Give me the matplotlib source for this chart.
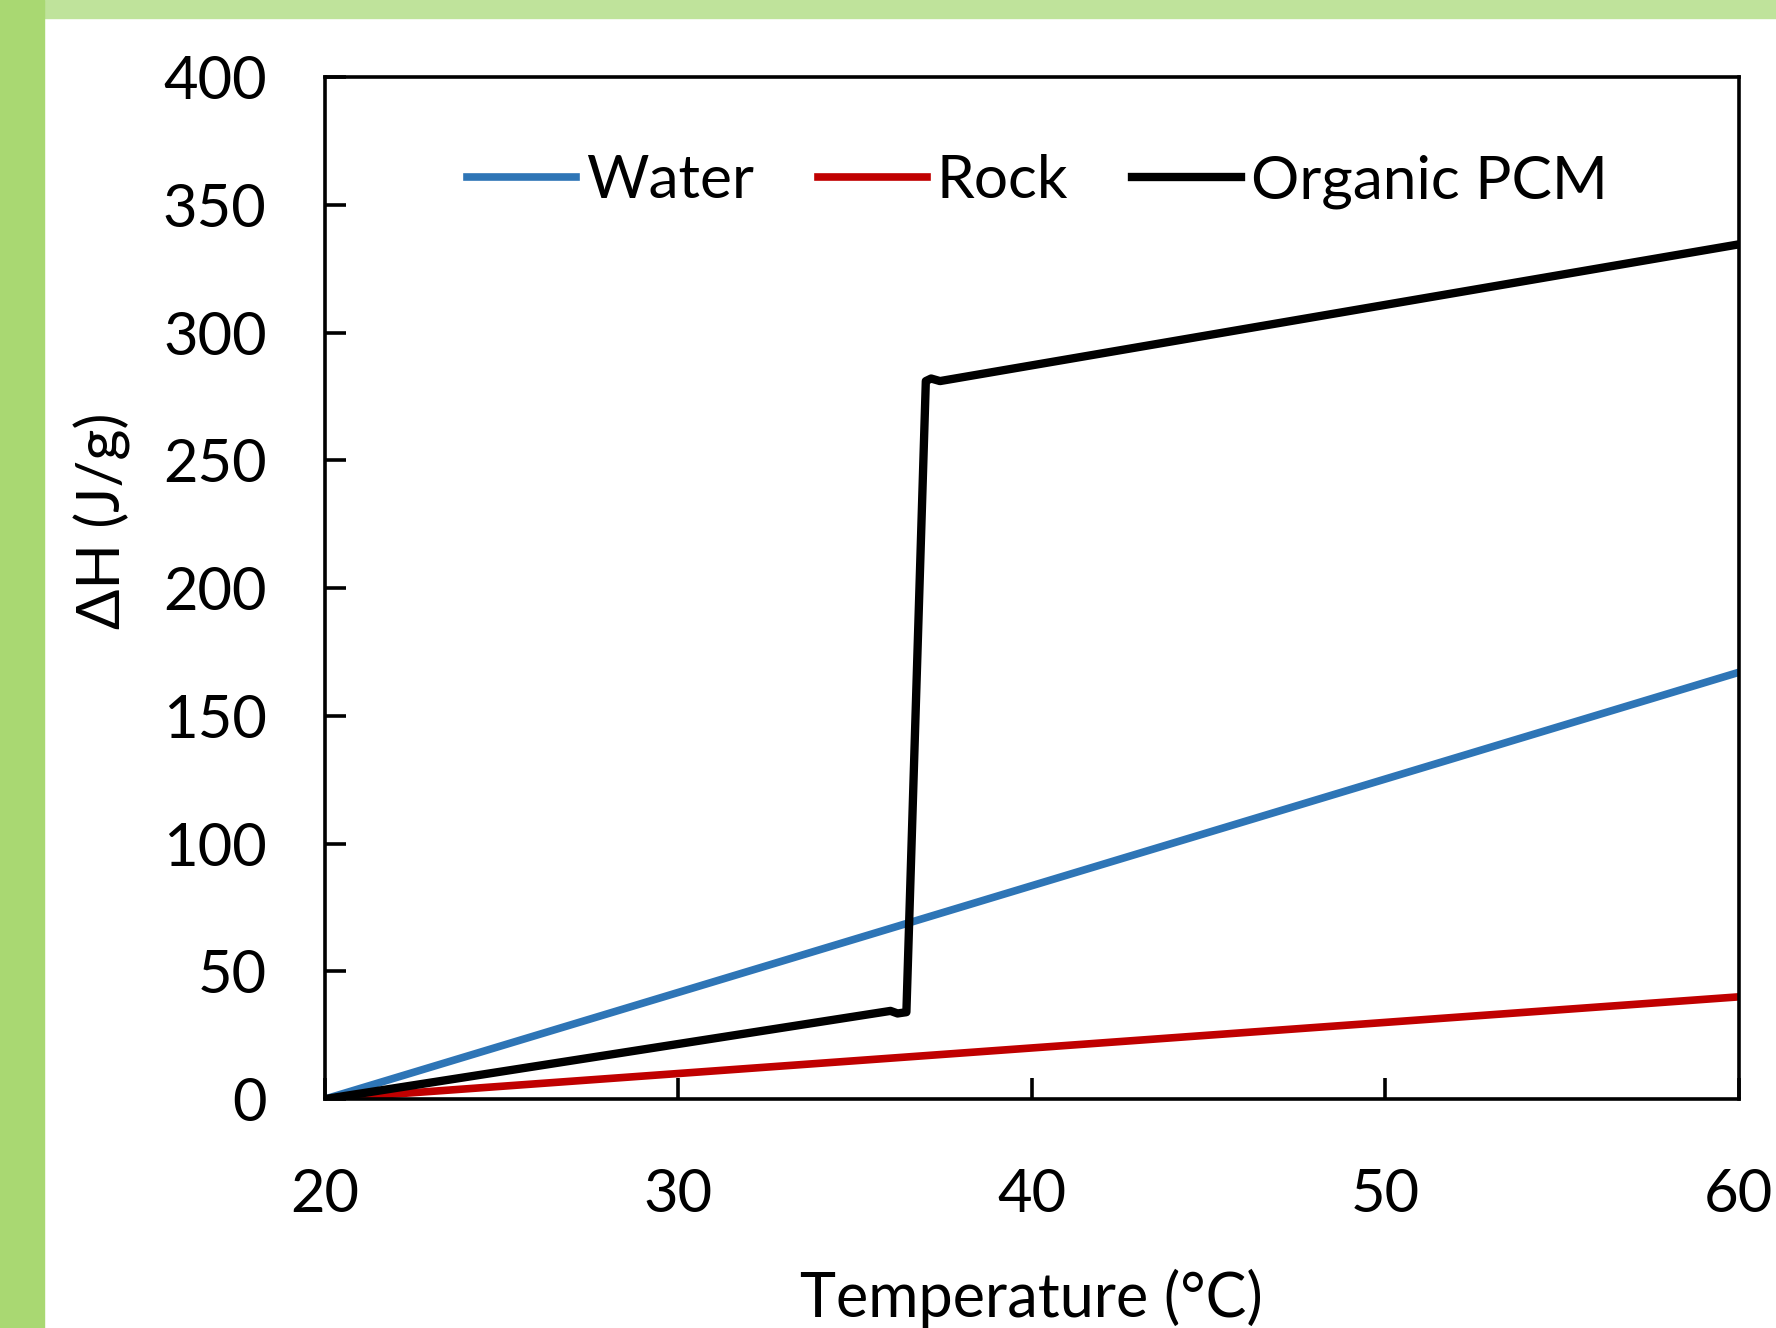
import matplotlib
matplotlib.use('Agg')
import matplotlib.pyplot as plt
from matplotlib.patches import Rectangle

plt.rcParams['font.family'] = ['Lato', 'DejaVu Sans']

# data
temp = [20, 60]
water = [0, 167]
rock = [0, 40]
temp_pcm = [20, 36.0, 36.2, 36.45, 37.0, 37.15, 37.4, 60]
pcm = [0, 34.5, 33.5, 34, 281, 282, 281, 334.5]

x_ticks = [20, 30, 40, 50, 60]
y_ticks = [0, 50, 100, 150, 200, 250, 300, 350, 400]

fig = plt.figure(figsize=(17.76, 13.28), dpi=100)

# green slide border (top and left)
fig.patches.append(Rectangle((0, 1 - 18 / 1328), 1, 18 / 1328, transform=fig.transFigure,
                             color='#bfe39b', zorder=0))
fig.patches.append(Rectangle((0, 0), 44 / 1776, 1, transform=fig.transFigure,
                             color='#a9d872', zorder=0))

ax = fig.add_axes([0.183, 0.1724, 0.796, 0.7696])

ax.plot(temp, water, color='#2e75b6', lw=5.5, label='Water')
ax.plot(temp, rock, color='#c00000', lw=5.5, label='Rock')
ax.plot(temp_pcm, pcm, color='black', lw=6, label='Organic PCM', solid_joinstyle='round')

ax.set_xlim(20, 60)
ax.set_ylim(0, 400)
ax.set_xticks(x_ticks)
ax.set_yticks(y_ticks)

for s in ax.spines.values():
    s.set_linewidth(2.6)

ax.tick_params(axis='both', direction='in', length=15, width=2.6, labelsize=43)
ax.tick_params(axis='y', pad=42)
ax.tick_params(axis='x', pad=50)

ax.set_xlabel('Temperature (°C)', fontsize=44)
ax.set_ylabel('ΔH (J/g)', fontsize=43)
ax.xaxis.set_label_coords(0.50, -0.166)
ax.yaxis.set_label_coords(-0.137, 0.566)

ax.legend(loc='center', bbox_to_anchor=(0.504, 0.898), ncol=3, frameon=False,
          fontsize=43.5, handlelength=1.8, handletextpad=0.17, columnspacing=1.05)

fig.savefig('out.png', dpi=100)
